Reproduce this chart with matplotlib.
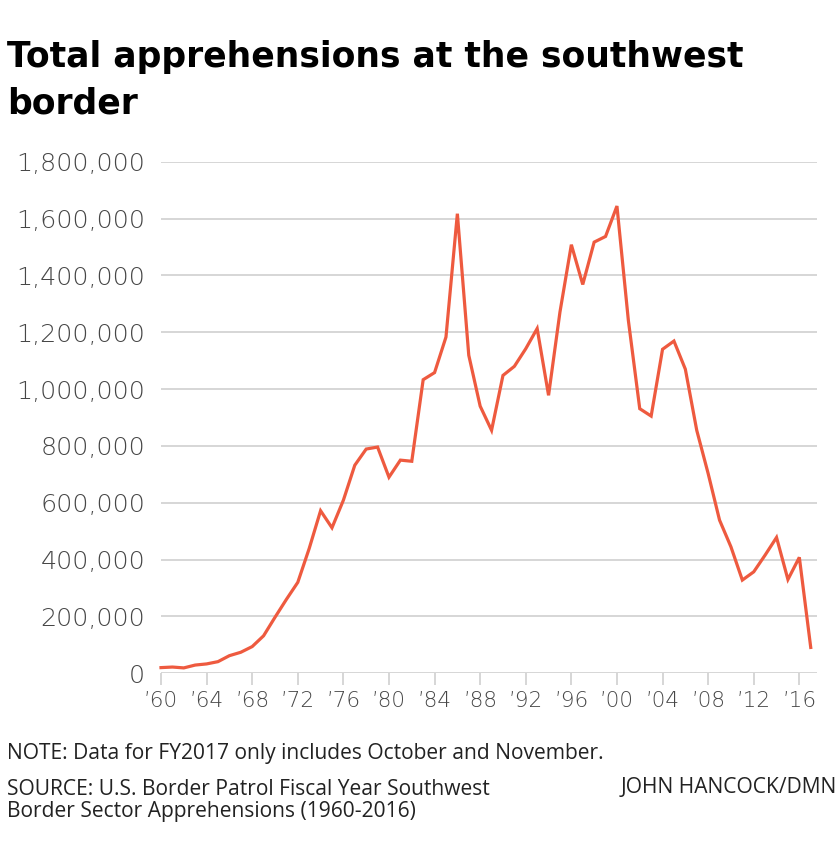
import matplotlib
matplotlib.use("Agg")
import matplotlib.pyplot as plt
import numpy as np

# Southwest border apprehensions by fiscal year (FY2017 = Oct-Nov only)
YEARS = list(range(1960, 2018))
APPREHENSIONS = [
    20000, 22000, 19000, 29000, 33000, 41000, 62000, 74000, 94000, 132000,
    197000, 260000, 320000, 439000, 572000, 512000, 609000, 732000, 789000, 796000,
    690000, 750000, 746000, 1033000, 1058000, 1183000, 1617000, 1119000, 940000, 855000,
    1048000, 1080000, 1142000, 1213000, 978000, 1271000, 1508000, 1368000, 1517000, 1537000,
    1644000, 1242000, 931000, 905000, 1140000, 1169000, 1070000, 855000, 703000, 539000,
    445000, 328000, 357000, 416000, 478000, 330000, 408000, 91000,
]

X_TICKS = list(range(1960, 2017, 4))
X_TICK_LABELS = ["\u2019" + str(y)[2:] for y in X_TICKS]
Y_TICKS = list(range(0, 1800001, 200000))
Y_TICK_LABELS = ["0" if v == 0 else f"{v:,}" for v in Y_TICKS]

TITLE_LINES = ["Total apprehensions at the southwest", "border"]
NOTE = "NOTE: Data for FY2017 only includes October and November."
SOURCE_LINES = ["SOURCE: U.S. Border Patrol Fiscal Year Southwest",
                "Border Sector Apprehensions (1960-2016)"]
CREDIT = "JOHN HANCOCK/DMN"

LINE_COLOR = "#EE5A3F"
GRID_COLOR = "#CCCCCC"
TICK_TEXT = "#474747"
NOTE_TEXT = "#222222"

W, H = 840, 859


def fx(px):
    return px / W


def fy(py):
    return 1 - py / H


fig = plt.figure(figsize=(8.4, 8.59), dpi=100)
ax = fig.add_axes([fx(161), fy(673.3), (817 - 161) / W, (673.3 - 161.7) / H])

ax.plot(YEARS, APPREHENSIONS, color=LINE_COLOR, linewidth=2.3, clip_on=False,
        solid_joinstyle="miter", zorder=3)

ax.set_xlim(1960, 2017.55)
ax.set_ylim(0, 1800000)

tick_font = {"family": ["DejaVu Sans"], "weight": "light"}
ax.set_yticks(Y_TICKS)
ax.set_yticklabels(Y_TICK_LABELS, fontsize=18.3, color=TICK_TEXT, **tick_font)
ax.set_xticks(X_TICKS)
ax.set_xticklabels(X_TICK_LABELS, fontsize=15.5, color=TICK_TEXT, **tick_font)

ax.tick_params(axis="y", length=0, pad=11.5)
ax.tick_params(axis="x", length=8.6, width=1.1, color=GRID_COLOR, pad=4)

ax.grid(axis="y", color=GRID_COLOR, linewidth=1.1)
ax.set_axisbelow(True)
for spine in ax.spines.values():
    spine.set_visible(False)

title_font = {"family": ["DejaVu Sans"], "weight": "bold", "size": 24.9, "color": "#000000"}
fig.text(fx(7), fy(66.7), TITLE_LINES[0], va="baseline", ha="left", **title_font)
fig.text(fx(7), fy(113.3), TITLE_LINES[1], va="baseline", ha="left", **title_font)

note_font = {"family": ["Open Sans", "DejaVu Sans"], "size": 15.1, "color": NOTE_TEXT}
fig.text(fx(7), fy(759), NOTE, va="baseline", ha="left", **note_font)
fig.text(fx(7), fy(795), SOURCE_LINES[0], va="baseline", ha="left", **note_font)
fig.text(fx(7), fy(816.7), SOURCE_LINES[1], va="baseline", ha="left", **note_font)
fig.text(fx(837), fy(793.3), CREDIT, va="baseline", ha="right", **note_font)

fig.savefig("out.png", dpi=100, facecolor="white")
